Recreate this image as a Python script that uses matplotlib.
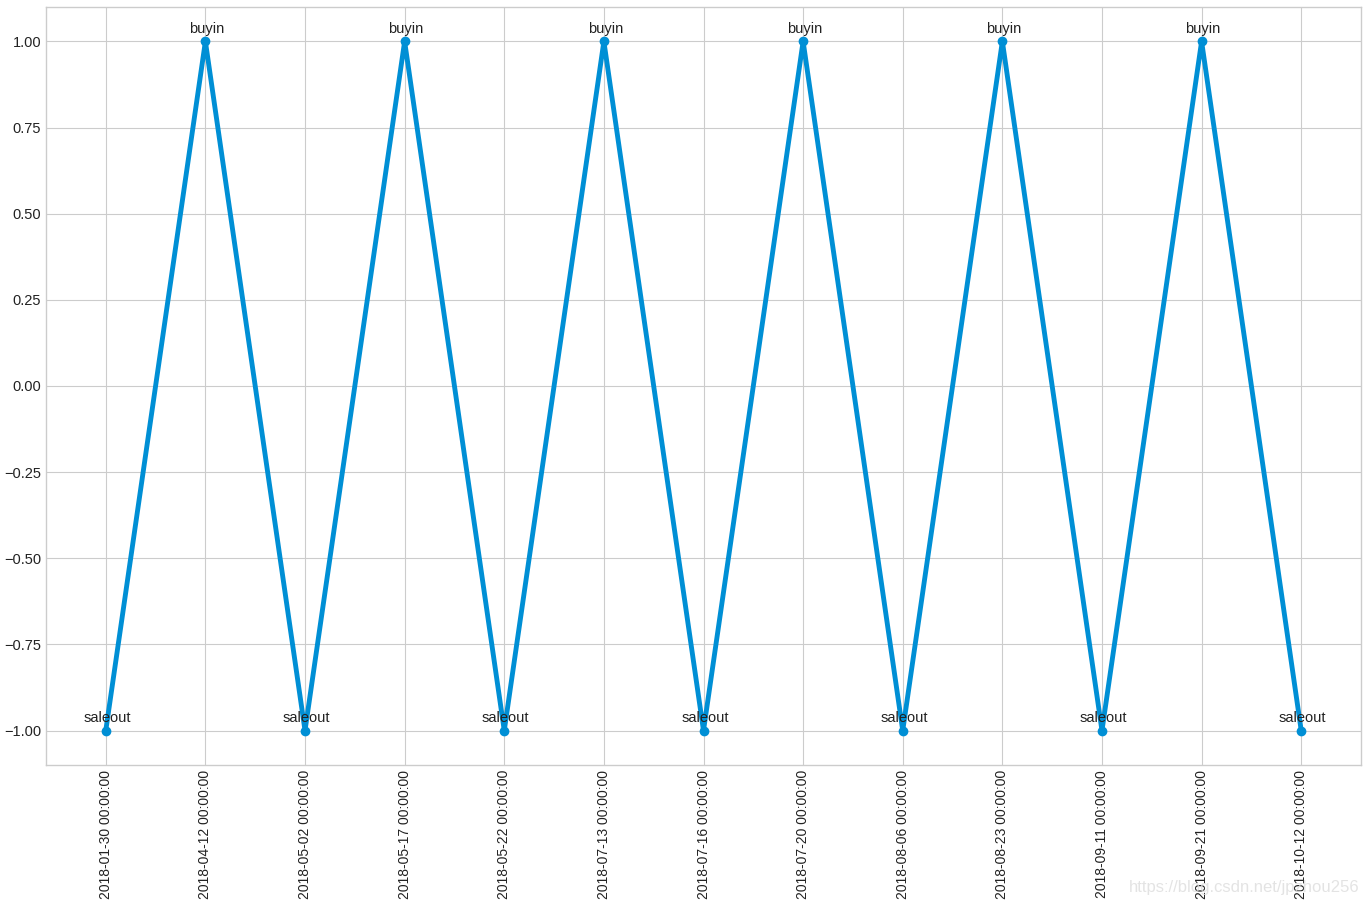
import matplotlib
matplotlib.use("Agg")
import matplotlib.pyplot as plt

dates = ["2018-01-30 00:00:00","2018-04-12 00:00:00","2018-05-02 00:00:00","2018-05-17 00:00:00",
         "2018-05-22 00:00:00","2018-07-13 00:00:00","2018-07-16 00:00:00","2018-07-20 00:00:00",
         "2018-08-06 00:00:00","2018-08-23 00:00:00","2018-09-11 00:00:00","2018-09-21 00:00:00",
         "2018-10-12 00:00:00"]
signals = [-1, 1, -1, 1, -1, 1, -1, 1, -1, 1, -1, 1, -1]
names = ["saleout" if s < 0 else "buyin" for s in signals]

plt.style.use("seaborn-v0_8-whitegrid")
plt.rcParams['font.family'] = ['Liberation Sans', 'DejaVu Sans']
fig = plt.figure(figsize=(13.68, 9.05), dpi=100)
ax = fig.add_axes([46/1368, 1-765/905, (1361-46)/1368, (765-7)/905])
x = list(range(len(dates)))
ax.plot(x, signals, color="#008fd5", linewidth=3.5, marker="o", markersize=6)
for xi, s, n in zip(x, signals, names):
    ax.annotate(n, (xi, s), xytext=(1, 4), textcoords="offset points", ha="center", va="bottom", fontsize=10.5, color="#222222")
ax.set_xticks(x)
ax.set_xticklabels(dates, rotation=90, fontsize=10, color="#222222")
ax.tick_params(axis="y", labelsize=10.5, labelcolor="#222222")
ax.set_yticks([-1, -0.75, -0.5, -0.25, 0, 0.25, 0.5, 0.75, 1])
ax.set_ylim(-1.1, 1.1)
ax.set_xlim(-0.6, 12.6)
for sp in ax.spines.values():
    sp.set_visible(True); sp.set_color("#cccccc")
ax.grid(color="#cccccc")
fig.text(1360/1368, 1-887/905, "https://blog.csdn.net/jpzhou256", ha="right", va="center", fontsize=12, color="#dddddd", alpha=0.8)
fig.savefig("out.png", dpi=100)
